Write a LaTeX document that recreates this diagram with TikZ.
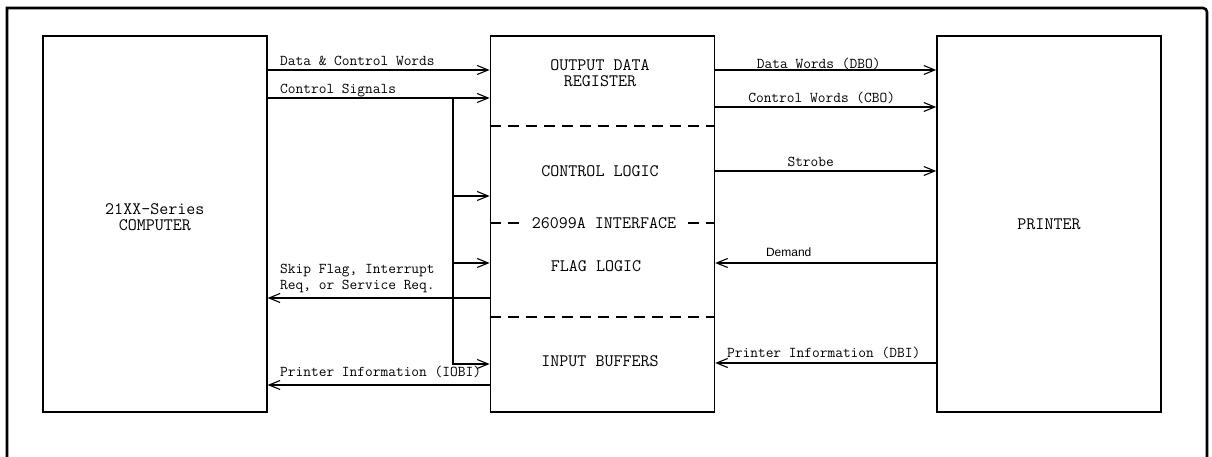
\documentclass[tikz,border=0pt]{standalone}
\usepackage{fontspec}
\setsansfont{Liberation Sans}
\usepackage{tikz}
\usetikzlibrary{arrows.meta, positioning}
\newcommand{\lblfont}{\ttfamily\fontsize{15}{16}\selectfont}
\newcommand{\boxfont}{\ttfamily\fontsize{17.5}{16}\selectfont}
\tikzstyle{unit} = [rectangle, draw=black, line width=1.6pt, minimum width=224pt, minimum height=376pt, inner sep=0pt, align=center, font=\boxfont]
\tikzstyle{section} = [font=\boxfont, align=center]
\tikzstyle{sig} = [line width=1.1pt, -{Straight Barb[length=11pt,width=9pt]}]
\tikzstyle{divider} = [line width=1.4pt, dash pattern=on 11pt off 7pt]
\tikzstyle{lbl} = [font=\lblfont, inner sep=0pt]
\tikzstyle{frame} = [line width=2.6pt]

\begin{document}
\begin{tikzpicture}[x=1pt, y=1pt]
			\useasboundingbox (0,0) rectangle (1212,457);
			\draw [frame] (7,-20) -- (7,449) -- (1203,449) to [out=0, in=90] (1207,445) -- (1207,-20);

			\node (comp) [unit, anchor=north west, text depth=14pt] at (42,422) {21XX-Series\\COMPUTER};
			\node (iface) [unit, right=222pt of comp] {};
			\node (prn) [unit, right=221pt of iface] {PRINTER};

			% parts of the interface card
			\node (odr) [section] at (600,384) {OUTPUT DATA\\REGISTER};
			\node (ctl) [section] at (600,286) {CONTROL LOGIC};
			\node (flag) [section] at (596,191) {FLAG LOGIC};
			\node (ibuf) [section] at (600,96) {INPUT BUFFERS};
			\draw [divider] (iface.west |- 0,331) -- (iface.east |- 0,331);
			\draw [divider] (iface.west |- 0,234) -- (iface.east |- 0,234);
			\draw [divider] (iface.west |- 0,140) -- (iface.east |- 0,140);
			\node (ifname) [section, fill=white, inner xsep=8pt, inner ysep=2pt] at (604,234) {26099A INTERFACE};

			% computer side
			\coordinate (tap) at (453,359);
			\draw [sig] (comp.east |- 0,387) -- node [lbl, anchor=base west, pos=0, xshift=12pt, yshift=4.5pt] {Data \& Control Words} (iface.west |- 0,387);
			\draw [sig] (comp.east |- tap) -- node [lbl, anchor=base west, pos=0, xshift=12pt, yshift=4.5pt] {Control Signals} (iface.west |- tap);
			\foreach \y in {261,194}
				\draw [sig] (453,\y) -- (iface.west |- 0,\y);
			\draw [sig] (tap) |- (iface.west |- 0,93);
			\draw [sig] (iface.west |- 0,159) -- node [lbl, anchor=south west, pos=1, xshift=12pt, yshift=4.5pt, align=left] {Skip Flag, Interrupt\\Req, or Service Req.} (comp.east |- 0,159);
			\draw [sig] (iface.west |- 0,72) -- node [lbl, anchor=base west, pos=1, xshift=12pt, yshift=8pt] {Printer Information (IOBI)} (comp.east |- 0,72);

			% printer side
			\draw [sig] (iface.east |- 0,387) -- node [lbl, anchor=base, xshift=-7pt, yshift=1.5pt] {Data Words (DBO)} (prn.west |- 0,387);
			\draw [sig] (iface.east |- 0,350) -- node [lbl, anchor=base, xshift=-4pt, yshift=4.5pt] {Control Words (CBO)} (prn.west |- 0,350);
			\draw [sig] (iface.east |- 0,286) -- node [lbl, anchor=base, xshift=-15pt, yshift=4.5pt] {Strobe} (prn.west |- 0,286);
			\draw [sig] (prn.west |- 0,194) -- node [lbl, anchor=base, xshift=-37pt, yshift=6pt, font=\sffamily\fontsize{12}{14}\selectfont] {Demand} (iface.east |- 0,194);
			\draw [sig] (prn.west |- 0,94) -- node [lbl, anchor=base, xshift=-2pt, yshift=5.5pt] {Printer Information (DBI)} (iface.east |- 0,94);
		\end{tikzpicture}
\end{document}
